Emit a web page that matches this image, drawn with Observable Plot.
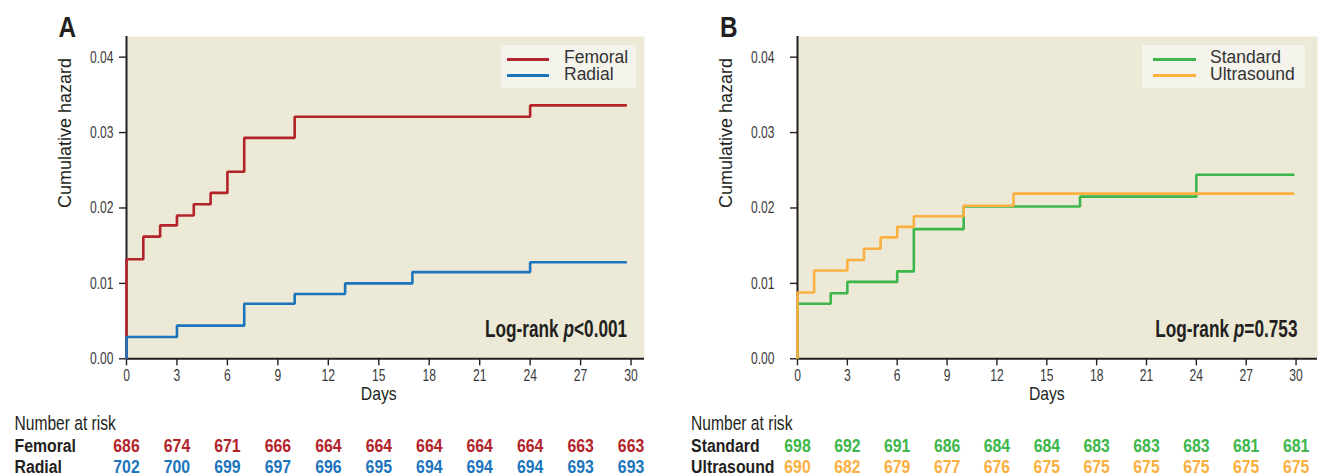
<!DOCTYPE html>
<html><head><meta charset="utf-8">
<script src="https://cdn.jsdelivr.net/npm/d3@7"></script>
<script src="https://cdn.jsdelivr.net/npm/@observablehq/plot@0.6"></script>
<style>
body{margin:0;background:#fff;}
#wrap{position:relative;width:1324px;height:476px;overflow:hidden;background:#fff;}
.panel{position:absolute;top:0;}
.legend{position:absolute;background:#f5f4ec;}
.sw{position:absolute;height:3px;}
.lt{position:absolute;font-family:"Liberation Sans",Arial,sans-serif;font-size:17.5px;line-height:17.5px;color:#333;white-space:nowrap;}
</style></head><body><div id="wrap"></div>
<script>
// ---- data ----
const femoralTimes   = [0, 1, 2, 3, 4, 5, 6, 7, 10, 24];
const femoralHazard  = [0.0132, 0.0162, 0.0177, 0.0190, 0.0205, 0.0220, 0.0248, 0.0293, 0.0321, 0.0336];
const radialTimes    = [0, 3, 7, 10, 13, 17, 24];
const radialHazard   = [0.0029, 0.0044, 0.0073, 0.0086, 0.0100, 0.0115, 0.0128];
const standardTimes  = [0, 2, 3, 6, 7, 10, 17, 24];
const standardHazard = [0.0073, 0.0087, 0.0102, 0.0116, 0.0172, 0.0202, 0.0215, 0.0244];
const ultrasoundTimes  = [0, 1, 3, 4, 5, 6, 7, 10, 13];
const ultrasoundHazard = [0.0088, 0.0117, 0.0131, 0.0146, 0.0161, 0.0175, 0.0189, 0.0203, 0.0219];
const riskDays       = [0, 3, 6, 9, 12, 15, 18, 21, 24, 27, 30];
const femoralRisk    = [686, 674, 671, 666, 664, 664, 664, 664, 664, 663, 663];
const radialRisk     = [702, 700, 699, 697, 696, 695, 694, 694, 694, 693, 693];
const standardRisk   = [698, 692, 691, 686, 684, 684, 683, 683, 683, 681, 681];
const ultrasoundRisk = [690, 682, 679, 677, 676, 675, 675, 675, 675, 675, 675];
const yTicks = [0, 0.01, 0.02, 0.03, 0.04];
const panelLetters = ["A", "B"];
const seriesNamesA = ["Femoral", "Radial"];
const seriesNamesB = ["Standard", "Ultrasound"];
const pValueA = ["Log-rank ", "p", "<0.001"];
const pValueB = ["Log-rank ", "p", "=0.753"];
const xLabel = "Days";
const yLabel = "Cumulative hazard";
const riskTitle = "Number at risk";

const colors = {Femoral: "#b2232a", Radial: "#1c75bc", Standard: "#3db64b", Ultrasound: "#fbb040"};
const REG = '"Liberation Sans",Arial,Helvetica,sans-serif';
const INK = "#231f20";

function steps(times, vals, end) {
  const pts = [{t: 0, v: 0}];
  times.forEach((t, i) => pts.push({t, v: vals[i]}));
  pts.push({t: end, v: vals[vals.length - 1]});
  return pts;
}

// horizontal condensing of text about its anchor (the reference uses a condensed face)
function condenseEls(els, ratio) {
  if (ratio === 1) return;
  els.forEach(el => {
    const anchor = getComputedStyle(el).textAnchor || "start";
    const g = document.createElementNS("http://www.w3.org/2000/svg", "g");
    el.parentNode.insertBefore(g, el);
    g.appendChild(el);
    const bb = g.getBBox();
    const ax = anchor === "end" ? bb.x + bb.width : anchor === "middle" ? bb.x + bb.width / 2 : bb.x;
    g.setAttribute("transform", `translate(${ax.toFixed(2)},0) scale(${ratio},1) translate(${(-ax).toFixed(2)},0)`);
  });
}

function panel(o) {
  const H = 476, mT = 36, mB = 117.7;
  const ratios = [];
  const marks = [
    Plot.frame({fill: "#ece9d6", stroke: "none"}),
    Plot.axisY({ticks: yTicks, tickSize: 7, tickPadding: o.yPad, tickFormat: d3.format(".2f"), label: null,
      fontSize: 16.8, fill: "#3a3a3a", strokeWidth: 1.4}),
    Plot.axisX({ticks: riskDays, tickSize: 7, tickPadding: 3, tickFormat: d => d, label: null,
      fontSize: 16.8, fill: "#3a3a3a", strokeWidth: 1.4}),
    Plot.ruleY([0], {stroke: INK, strokeWidth: 2}),
    Plot.ruleX([0], {stroke: INK, strokeWidth: 2}),
  ];
  o.series.forEach(s => {
    marks.push(Plot.line(steps(s.times, s.vals, o.end), {x: "t", y: "v", curve: "step-after",
      stroke: colors[s.name], strokeWidth: 2.6, strokeLinejoin: "miter", strokeLinecap: "butt"}));
  });
  const addText = (r, m) => { ratios.push(r); marks.push(m); };
  addText(0.9, Plot.text([xLabel], {x: [15], frameAnchor: "bottom", dy: 41.6, lineAnchor: "bottom",
    fontSize: 17.5, fill: INK}));
  addText(1, Plot.text([yLabel], {y: [0.02], frameAnchor: "left", dx: o.yLabelDx, rotate: -90,
    fontSize: 18, fill: INK}));
  addText(0.83, Plot.text([o.letter], {frameAnchor: "top-left", dx: o.letterDx, dy: 0, lineAnchor: "bottom",
    textAnchor: "start", fontWeight: "bold", fontSize: 29.3, fill: INK}));
  addText(0.74, Plot.text([o.pText.join("")], {frameAnchor: "bottom-right", dx: o.pDx, dy: -21.6, lineAnchor: "bottom",
    textAnchor: "end", fontWeight: "bold", fontSize: 23.3, fill: INK}));
  addText(0.8, Plot.text([riskTitle], {frameAnchor: "bottom-left", dx: o.tableDx, dy: 70.7, lineAnchor: "bottom",
    textAnchor: "start", fontSize: 19.5, fill: INK}));
  o.series.forEach((s, k) => {
    const dy = k === 0 ? 93.4 : 114;
    addText(0.85, Plot.text([s.name], {frameAnchor: "bottom-left", dx: o.tableDx, dy, lineAnchor: "bottom",
      textAnchor: "start", fontWeight: "bold", fontSize: 18.6, fill: INK}));
    addText(0.85, Plot.text(riskDays, {x: d => d, text: (d, i) => s.risk[i], frameAnchor: "bottom", dy, lineAnchor: "bottom",
      textAnchor: "middle", fontWeight: "bold", fontSize: 18.6, fill: colors[s.name]}));
  });
  const svg = Plot.plot({
    width: 662, height: H, marginTop: mT, marginBottom: mB, marginLeft: o.mL, marginRight: o.mR,
    style: {fontFamily: REG, fontSize: "16px", color: INK, background: "transparent", overflow: "visible"},
    x: {domain: [0, o.xMax]},
    y: {domain: [0, 0.04274]},
    marks
  });
  d3.select(svg).selectAll("text").filter(function() { return this.textContent === o.pText.join(""); })
    .each(function() {
      const t = d3.select(this); t.text("");
      t.append("tspan").text(o.pText[0]);
      t.append("tspan").attr("font-style", "italic").text(o.pText[1]);
      t.append("tspan").text(o.pText[2]);
    });
  const div = document.createElement("div");
  div.className = "panel"; div.style.left = o.left + "px";
  div.appendChild(svg);
  document.getElementById("wrap").appendChild(div);
  const groups = Array.from(svg.querySelectorAll('g[aria-label="text"]'));
  const tickTexts = Array.from(svg.querySelectorAll('g[aria-label="y-axis tick label"] text, g[aria-label="x-axis tick label"] text'));
  condenseEls(tickTexts, 0.72);
  groups.forEach((g, i) => condenseEls(Array.from(g.querySelectorAll(":scope > text")), ratios[i] ?? 1));
}

function legend(box, names) {
  const wrap = document.getElementById("wrap");
  const lg = document.createElement("div");
  lg.className = "legend";
  Object.assign(lg.style, {left: box.x + "px", top: box.y + "px", width: box.w + "px", height: box.h + "px"});
  wrap.appendChild(lg);
  names.forEach((n, i) => {
    const sw = document.createElement("div");
    sw.className = "sw";
    Object.assign(sw.style, {left: box.swX + "px", width: box.swW + "px", top: (box.swY[i] - 1.5) + "px", background: colors[n]});
    wrap.appendChild(sw);
    const t = document.createElement("div");
    t.className = "lt"; t.textContent = n;
    Object.assign(t.style, {left: box.tx + "px", top: (box.base[i] - 14.8) + "px"});
    wrap.appendChild(t);
  });
}

panel({left: 0, mL: 126, mR: 18, xMax: 30.8, end: 29.75, yPad: 6, yLabelDx: -61, letterDx: -68, pDx: -17.3, tableDx: -112,
  letter: panelLetters[0], pText: pValueA,
  series: [
    {name: seriesNamesA[0], times: femoralTimes, vals: femoralHazard, risk: femoralRisk},
    {name: seriesNamesA[1], times: radialTimes, vals: radialHazard, risk: radialRisk}
  ]});
panel({left: 662, mL: 135, mR: 7, xMax: 31.29, end: 29.9, yPad: 16, yLabelDx: -71.7, letterDx: -77.4, pDx: -20, tableDx: -106.4,
  letter: panelLetters[1], pText: pValueB,
  series: [
    {name: seriesNamesB[0], times: standardTimes, vals: standardHazard, risk: standardRisk},
    {name: seriesNamesB[1], times: ultrasoundTimes, vals: ultrasoundHazard, risk: ultrasoundRisk}
  ]});
legend({x: 501, y: 45, w: 135, h: 42.7, swX: 507, swW: 42, swY: [59.3, 75], tx: 564, base: [63.3, 80.7]}, seriesNamesA);
legend({x: 1142.3, y: 45, w: 162.7, h: 42.7, swX: 1152.7, swW: 43, swY: [59.7, 75], tx: 1210, base: [63.3, 81]}, seriesNamesB);
</script></body></html>
